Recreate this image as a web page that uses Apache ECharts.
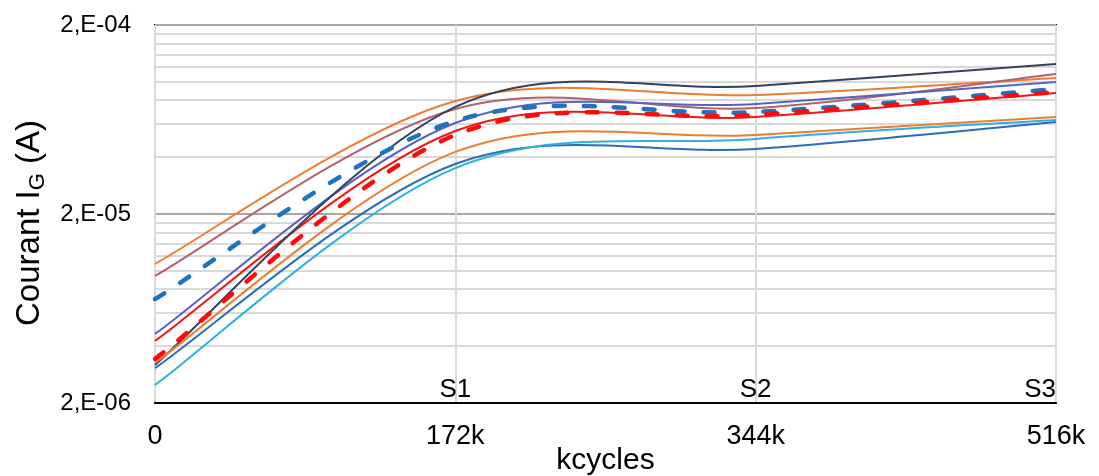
<!DOCTYPE html>
<html>
<head>
<meta charset="utf-8">
<title>Courant IG</title>
<script src="https://cdn.jsdelivr.net/npm/echarts@6/dist/echarts.min.js"></script>
<style>
  html, body { margin: 0; padding: 0; background: #fff; }
  #chart { width: 1099px; height: 476px; }
</style>
</head>
<body>
<div id="chart"></div>
<script>
// measuring points (kcycles) and their stage names
var stageCycles = [0, 172, 344, 516]
var stageLabels = ['', 'S1', 'S2', 'S3']

// courant IG (A) per curve, at 0 / S1 / S2 / S3
var orangeHigh = [1.09e-5, 7.92e-5, 8.52e-5, 1.05e-4]
var mauve = [9.40e-6, 7.19e-5, 7.28e-5, 1.10e-4]
var slateBlue = [4.64e-6, 6.06e-5, 7.64e-5, 9.99e-5]
var redLine = [4.26e-6, 5.50e-5, 6.52e-5, 8.74e-5]
var navy = [3.18e-6, 7.37e-5, 9.51e-5, 1.244e-4]
var orangeLow = [3.26e-6, 4.26e-5, 5.24e-5, 6.52e-5]
var blueLine = [3.06e-6, 3.68e-5, 4.42e-5, 6.14e-5]
var cyan = [2.49e-6, 3.50e-5, 4.99e-5, 6.29e-5]
var blueDash = [7.10e-6, 6.21e-5, 6.93e-5, 9.17e-5]
var redDash = [3.42e-6, 5.24e-5, 6.68e-5, 8.84e-5]

// y axis ticks
var yLabelValues = [2e-6, 2e-5, 2e-4]
var yGridValues = [2e-6, 4e-6, 6e-6, 8e-6, 1e-5, 1.2e-5, 1.4e-5, 1.6e-5, 1.8e-5,
  2e-5, 4e-5, 6e-5, 8e-5, 1e-4, 1.2e-4, 1.4e-4, 1.6e-4, 1.8e-4, 2e-4]

var FONT = 'Liberation Sans, Arial, sans-serif'

// spreadsheet style smoothing: cardinal bezier through the points, in pixels
function smoothPath(p) {
  var n = p.length
  var d = 'M' + p[0][0] + ' ' + p[0][1]
  for (var i = 0; i < n - 1; i++) {
    var a = p[Math.max(i - 1, 0)]
    var b = p[i]
    var c = p[i + 1]
    var e = p[Math.min(i + 2, n - 1)]
    var c1x = b[0] + (c[0] - a[0]) / 6
    var c1y = b[1] + (c[1] - a[1]) / 6
    var c2x = c[0] - (e[0] - b[0]) / 6
    var c2y = c[1] - (e[1] - b[1]) / 6
    d += ' C' + c1x + ' ' + c1y + ' ' + c2x + ' ' + c2y + ' ' + c[0] + ' ' + c[1]
  }
  return d
}

function curve(name, color, values, dashed) {
  return {
    name: name,
    type: 'custom',
    coordinateSystem: 'cartesian2d',
    data: values.map(function (v, i) { return [stageCycles[i], v] }),
    encode: { x: 0, y: 1 },
    renderItem: function (params, api) {
      if (params.dataIndex !== 0) return null
      var pts = values.map(function (v, i) { return api.coord([stageCycles[i], v]) })
      return {
        type: 'path',
        shape: { pathData: smoothPath(pts) },
        style: dashed
          ? { fill: 'none', stroke: color, lineWidth: 4.5, lineDash: [11, 19], lineCap: 'round' }
          : { fill: 'none', stroke: color, lineWidth: 2 }
      }
    }
  }
}

function expLabel(v) {
  var e = Math.floor(Math.log10(v) + 1e-9)
  var m = Math.round(v / Math.pow(10, e))
  return m + ',E-' + String(-e).padStart(2, '0')
}

var gridColors = ['#A6A6A6', '#D9D9D9', '#D9D9D9', '#D9D9D9', '#D9D9D9',
  '#D9D9D9', '#D9D9D9', '#D9D9D9', '#D9D9D9']

var chart = echarts.init(document.getElementById('chart'))
chart.setOption({
  animation: false,
  backgroundColor: '#fff',
  grid: {
    left: 155,
    right: 43,
    top: 25,
    bottom: 73,
    outerBoundsMode: 'none',
    containLabel: false,
    show: true,
    borderColor: '#000',
    borderWidth: 2
  },
  xAxis: [
    {
      type: 'value',
      min: 0,
      max: 516,
      interval: 172,
      position: 'bottom',
      name: 'kcycles',
      nameLocation: 'middle',
      nameGap: 43,
      nameMoveOverlap: false,
      nameTextStyle: { fontSize: 30, color: '#000', fontFamily: FONT },
      axisLine: { show: true, lineStyle: { color: '#000', width: 2 } },
      axisTick: { show: false },
      axisLabel: {
        fontSize: 27,
        color: '#000',
        fontFamily: FONT,
        margin: 20,
        formatter: function (v) { return v === 0 ? '0' : v + 'k' }
      },
      splitLine: { show: true, lineStyle: { color: '#D9D9D9', width: 2 } }
    },
    {
      // stage names S1..S3 sitting on the bottom edge
      type: 'value',
      min: 0,
      max: 516,
      interval: 172,
      position: 'top',
      offset: -378,
      axisLine: { show: false },
      axisTick: { show: false },
      splitLine: { show: false },
      axisLabel: {
        fontSize: 26,
        color: '#000',
        fontFamily: FONT,
        margin: 0,
        alignMaxLabel: 'right',
        formatter: function (v) { return stageLabels[stageCycles.indexOf(v)] || '' }
      }
    }
  ],
  yAxis: {
    type: 'log',
    logBase: 10,
    min: 2e-6,
    max: 2e-4,
    name: '{main|Courant I}{sub|G}{main| (A)}',
    nameLocation: 'middle',
    nameGap: 106,
    nameTextStyle: {
      fontFamily: FONT,
      color: '#000',
      padding: [0, 18, 0, 0],
      rich: {
        main: { fontSize: 33, lineHeight: 36, verticalAlign: 'top', fontFamily: FONT, color: '#000' },
        sub: { fontSize: 22, lineHeight: 18, verticalAlign: 'bottom', fontFamily: FONT, color: '#000' }
      }
    },
    axisLine: { show: false },
    axisTick: { show: false, customValues: yGridValues },
    axisLabel: {
      customValues: yLabelValues,
      fontSize: 24,
      color: '#000',
      fontFamily: FONT,
      margin: 24,
      formatter: expLabel
    },
    splitLine: { show: true, lineStyle: { color: gridColors, width: 2 } }
  },
  series: [
    curve('orangeHigh', '#ED7D31', orangeHigh),
    curve('mauve', '#AE6470', mauve),
    curve('slateBlue', '#5A62BE', slateBlue),
    curve('redLine', '#F01818', redLine),
    curve('navy', '#34425F', navy),
    curve('orangeLow', '#ED7D31', orangeLow),
    curve('blueLine', '#2A6DB8', blueLine),
    curve('cyan', '#2FB0E2', cyan),
    curve('blueDash', '#1F72BE', blueDash, true),
    curve('redDash', '#FF0A0A', redDash, true)
  ]
})
</script>
</body>
</html>
